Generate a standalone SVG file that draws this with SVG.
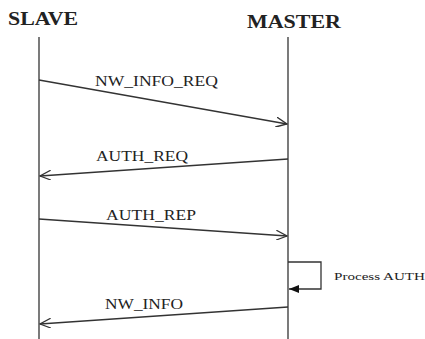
<svg xmlns="http://www.w3.org/2000/svg" width="425" height="339" viewBox="0 0 425 339">
<style>
.t{font-family:"Liberation Serif","Times New Roman",serif;fill:#222}
.h{font-size:19px;font-weight:bold}
.l{font-size:15px}
.s{font-size:11px}
.ln{stroke:#333;stroke-width:1.3;fill:none}
</style>
<defs>
<marker id="open" viewBox="0 0 12 10" refX="11" refY="5" markerWidth="12" markerHeight="10" markerUnits="userSpaceOnUse" orient="auto">
<path d="M0,0 L11,5 L0,10" fill="none" stroke="#333" stroke-width="1.3"/>
</marker>
<marker id="fill" viewBox="0 0 10 8" refX="10" refY="4" markerWidth="10" markerHeight="8" markerUnits="userSpaceOnUse" orient="auto">
<path d="M0,0 L10,4 L0,8 Z" fill="#111"/>
</marker>
</defs>
<g id="slave">
<text class="t h" x="8" y="25" textLength="70" lengthAdjust="spacingAndGlyphs">SLAVE</text>
<line class="ln" x1="39" y1="37" x2="39" y2="339"/>
</g>
<g id="master">
<text class="t h" x="247" y="28" textLength="94" lengthAdjust="spacingAndGlyphs">MASTER</text>
<line class="ln" x1="288" y1="37" x2="288" y2="339"/>
</g>
<g id="connectors">
<line class="ln" x1="39" y1="80" x2="287" y2="124" marker-end="url(#open)"/>
<line class="ln" x1="288" y1="159" x2="40" y2="176" marker-end="url(#open)"/>
<line class="ln" x1="39" y1="219" x2="287" y2="236" marker-end="url(#open)"/>
<polyline class="ln" points="288,262 321,262 321,289 289,289" marker-end="url(#fill)"/>
<line class="ln" x1="288" y1="307" x2="40" y2="324" marker-end="url(#open)"/>
</g>
<g id="labels">
<text class="t l" x="95" y="86" textLength="123" lengthAdjust="spacingAndGlyphs">NW_INFO_REQ</text>
<text class="t l" x="96" y="161" textLength="92" lengthAdjust="spacingAndGlyphs">AUTH_REQ</text>
<text class="t l" x="106" y="220" textLength="90" lengthAdjust="spacingAndGlyphs">AUTH_REP</text>
<text class="t s" x="334" y="280" textLength="91" lengthAdjust="spacingAndGlyphs">Process AUTH</text>
<text class="t l" x="105" y="309" textLength="78" lengthAdjust="spacingAndGlyphs">NW_INFO</text>
</g>
</svg>
